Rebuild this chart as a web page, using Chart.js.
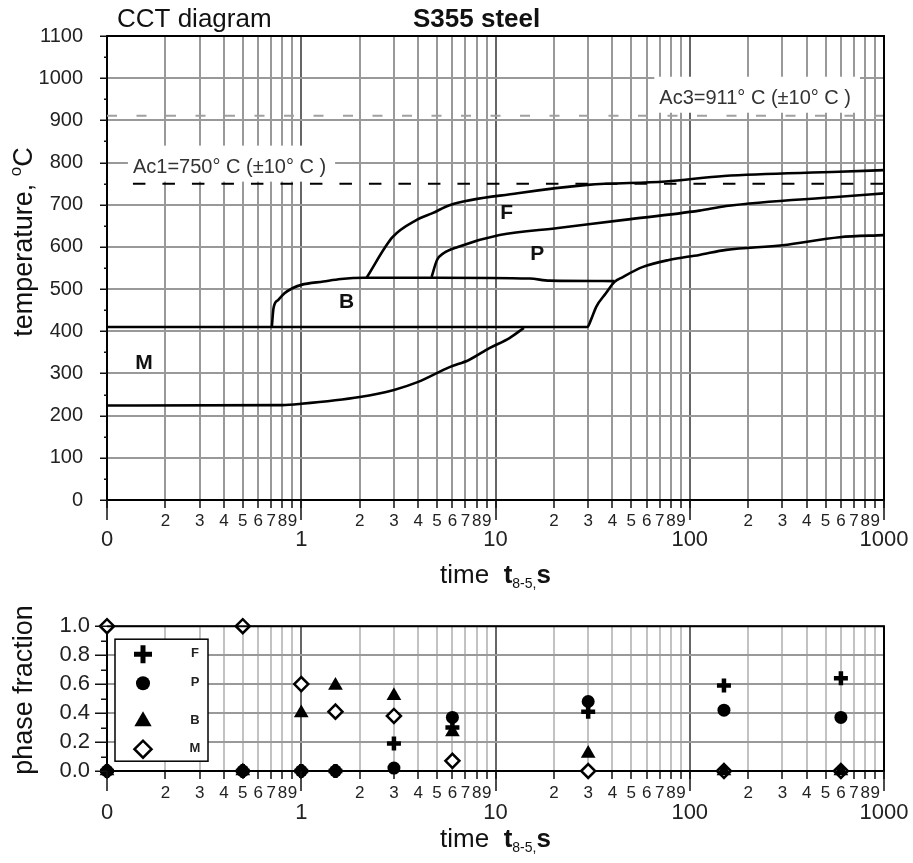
<!DOCTYPE html>
<html>
<head>
<meta charset="utf-8">
<script src="https://cdn.jsdelivr.net/npm/chart.js@4.4.1/dist/chart.umd.min.js"></script>
<style>
  html, body { margin: 0; padding: 0; background: #fff; overflow: hidden; }
  #wrap { position: relative; width: 913px; height: 863px; }
  canvas { position: absolute; left: 0; }
  #cct { top: 0; }
  #phase { top: 596px; }
</style>
</head>
<body>
<div id="wrap">
  <canvas id="cct" width="913" height="596"></canvas>
  <canvas id="phase" width="913" height="267"></canvas>
</div>
<script>
const FONT = "'Liberation Sans', Arial, Helvetica, sans-serif";

/* time axis tick labels */
const decadeValues = [0.1, 1, 10, 100, 1000];
const decadeLabels = ['0', '1', '10', '100', '1000'];
const mantissas = [1, 2, 3, 4, 5, 6, 7, 8, 9];

/* CCT curves: time (s) / temperature (C) */
const curveMsTime = [0.1, 29.7, 31, 33, 37, 41, 45, 57, 78, 112, 154, 300, 590, 1000];
const curveMsTemp = [410, 410, 427, 458, 490, 517, 528, 552, 569, 581, 593, 604, 623, 628];
const curveMfTime = [0.1, 0.8, 1, 2, 3, 4, 5.8, 7.3, 9.3, 11.8, 14];
const curveMfTemp = [224, 225, 228, 244, 261, 280, 315, 332, 360, 384, 408];
const curveBsTime = [0.705, 0.72, 0.76, 0.82, 0.9, 1.0, 1.3, 1.6, 2.1, 5, 15, 19, 41];
const curveBsTemp = [408, 455, 474, 490, 502, 510, 518, 524, 527, 527, 525, 520, 519];
const curveFsTime = [2.17, 2.95, 3.93, 4.74, 5.8, 13, 29.7, 75, 150, 587, 1000];
const curveFsTemp = [527, 623, 664, 680, 699, 727, 747, 755, 768, 778, 782];
const curvePsTime = [4.69, 5.0, 5.4, 6.4, 10.5, 21, 46, 112, 154, 590, 1000];
const curvePsTemp = [529, 569, 585, 600, 628, 645, 664, 686, 697, 719, 727];
const ac1Time = [0.136, 1000];
const ac1Temp = [750, 750];
const ac3Time = [0.1, 1000];
const ac3Temp = [911, 911];

/* phase fractions measured at each cooling time */
const sampleTime = [0.1, 0.5, 1, 1.5, 3, 6, 30, 150, 600];
const fracF = [0, 0, 0, 0, 0.19, 0.30, 0.41, 0.59, 0.64];
const fracP = [0, 0, 0, 0, 0.02, 0.37, 0.48, 0.42, 0.37];
const fracB = [0, 0, 0.40, 0.59, 0.52, 0.27, 0.12, 0, 0];
const fracM = [1.0, 1.0, 0.60, 0.41, 0.38, 0.07, 0, 0, 0];
const phaseNames = ['F', 'P', 'B', 'M'];

/* annotations on the CCT diagram */
const acNotes = [
  { text: 'Ac1=750° C (±10° C )', time: 0.136, temp: 750, lift: 11 },
  { text: 'Ac3=911° C (±10° C )', time: 69.7, temp: 911, lift: 12 }
];
const regionNotes = [
  { text: 'F', time: 11.4, temp: 680 },
  { text: 'P', time: 16.4, temp: 583 },
  { text: 'B', time: 1.71, temp: 469 },
  { text: 'M', time: 0.155, temp: 325 }
];

function buildTimeTicks() {
  const out = [];
  decadeValues.forEach((d, i) => {
    if (i === decadeValues.length - 1) {
      out.push({ value: d, major: true });
      return;
    }
    mantissas.forEach(m => out.push({ value: +(m * d).toPrecision(6), major: m === 1 }));
  });
  return out;
}

function timeLabel(value, index, ticks) {
  const t = ticks[index];
  if (t.major) {
    const k = decadeValues.findIndex(d => Math.abs(d - value) < d * 1e-6);
    return decadeLabels[k];
  }
  const p = Math.pow(10, Math.floor(Math.log10(value) + 1e-9));
  return String(Math.round(value / p));
}

function timeAxis(height, pad, majorLine, minorGrid) {
  return {
    type: 'logarithmic',
    min: 0.1,
    max: 1000,
    afterBuildTicks: (s) => { s.ticks = buildTimeTicks(); },
    afterFit: (s) => { s.height = height; },
    grid: {
      color: c => (c.tick && c.tick.major) ? '#666' : minorGrid,
      lineWidth: 2,
      tickLength: 8,
      tickColor: '#111',
      tickWidth: 1.5
    },
    border: { color: '#000', width: 2 },
    ticks: {
      autoSkip: false,
      maxRotation: 0,
      minRotation: 0,
      padding: pad,
      color: '#222',
      font: c => (c.tick && c.tick.major)
        ? { family: FONT, size: 22, lineHeight: majorLine + 'px' }
        : { family: FONT, size: 17, lineHeight: 1.2 },
      callback: timeLabel
    }
  };
}

function runFont(r) {
  return (r.bold ? 'bold ' : '') + r.size + 'px ' + FONT;
}

function drawRuns(ctx, runs, x, y, align) {
  let w = 0;
  runs.forEach(r => { ctx.font = runFont(r); r.w = ctx.measureText(r.t).width; w += r.w; });
  let cx = align === 'center' ? x - w / 2 : x;
  ctx.textAlign = 'left';
  ctx.textBaseline = 'alphabetic';
  runs.forEach(r => {
    ctx.font = runFont(r);
    ctx.fillText(r.t, cx, y + (r.dy || 0));
    cx += r.w;
  });
}

function timeTitle(ctx, x, y) {
  drawRuns(ctx, [
    { t: 'time  ', size: 26 },
    { t: 't', size: 26, bold: true },
    { t: '8-5,', size: 14, dy: 5 },
    { t: 's', size: 26, bold: true }
  ], x, y, 'center');
}

function yTitle(ctx, runs, x, y) {
  ctx.save();
  ctx.translate(x, y);
  ctx.rotate(-Math.PI / 2);
  drawRuns(ctx, runs, 0, 0, 'center');
  ctx.restore();
}

/* frame on top/right plus tick marks of two lengths */
const axisMarks = {
  id: 'axisMarks',
  afterDatasetsDraw(chart, args, o) {
    const { ctx, chartArea: a } = chart;
    const xs = chart.scales.x, ys = chart.scales.y;
    ctx.save();
    ctx.strokeStyle = '#000';
    ctx.lineWidth = 2;
    ctx.beginPath();
    ctx.moveTo(a.left, a.top);
    ctx.lineTo(a.right, a.top);
    ctx.lineTo(a.right, a.bottom);
    ctx.stroke();

    ctx.strokeStyle = '#111';
    ctx.lineWidth = 1.5;
    ctx.beginPath();
    xs.ticks.forEach(t => {
      if (!t.major) return;
      const px = Math.round(xs.getPixelForValue(t.value));
      ctx.moveTo(px, a.bottom);
      ctx.lineTo(px, a.bottom + o.xMajor);
    });
    ys.ticks.forEach(t => {
      const r = t.value / o.yStep;
      const len = Math.abs(r - Math.round(r)) < 1e-6 ? o.yMajor : o.yMinor;
      const py = Math.round(ys.getPixelForValue(t.value)) + 0.25;
      ctx.moveTo(a.left - len, py);
      ctx.lineTo(a.left, py);
    });
    ctx.stroke();
    ctx.restore();
  }
};

const cctText = {
  id: 'cctText',
  beforeDatasetsDraw(chart) {
    const { ctx } = chart;
    const xs = chart.scales.x, ys = chart.scales.y;
    ctx.save();
    ctx.font = '20px ' + FONT;
    acNotes.forEach(n => {
      const w = ctx.measureText(n.text).width;
      const lx = xs.getPixelForValue(n.time);
      const by = ys.getPixelForValue(n.temp) - n.lift;
      ctx.fillStyle = '#fff';
      ctx.fillRect(lx - 5, by - 27, w + 14, 36);
    });
    ctx.restore();
  },
  afterDatasetsDraw(chart) {
    const { ctx, chartArea: a } = chart;
    const xs = chart.scales.x, ys = chart.scales.y;
    ctx.save();
    ctx.fillStyle = '#333';
    ctx.font = '20px ' + FONT;
    ctx.textAlign = 'left';
    ctx.textBaseline = 'alphabetic';
    acNotes.forEach(n => {
      ctx.fillText(n.text, xs.getPixelForValue(n.time), ys.getPixelForValue(n.temp) - n.lift);
    });

    ctx.fillStyle = '#111';
    ctx.font = 'bold 21px ' + FONT;
    ctx.textAlign = 'center';
    ctx.textBaseline = 'middle';
    regionNotes.forEach(n => {
      ctx.fillText(n.text, xs.getPixelForValue(n.time), ys.getPixelForValue(n.temp));
    });

    ctx.fillStyle = '#111';
    drawRuns(ctx, [{ t: 'CCT diagram', size: 26 }], 117, 27, 'left');
    drawRuns(ctx, [{ t: 'S355 steel', size: 26, bold: true }], 413, 27, 'left');
    timeTitle(ctx, (a.left + a.right) / 2, 583);
    yTitle(ctx, [
      { t: 'temperature, ', size: 27 },
      { t: 'o', size: 17, dy: -11 },
      { t: 'C', size: 27 }
    ], 32, 242);
    ctx.restore();
  }
};

const legendStyle = [
  { radius: 9, borderWidth: 5, row: 15 },
  { radius: 7, borderWidth: 0, row: 44 },
  { radius: 10, borderWidth: 0, row: 82 },
  { radius: 8.5, borderWidth: 2.5, row: 110 }
];

const phaseText = {
  id: 'phaseText',
  afterDatasetsDraw(chart) {
    const { ctx, chartArea: a } = chart;
    const bx = a.left + 8, by = a.top + 13, bw = 93, bh = 122;
    ctx.save();
    ctx.fillStyle = '#fff';
    ctx.fillRect(bx, by, bw, bh);
    ctx.strokeStyle = '#000';
    ctx.lineWidth = 1.5;
    ctx.strokeRect(bx, by, bw, bh);

    chart.data.datasets.forEach((ds, i) => {
      const st = legendStyle[i];
      const cy = by + st.row;
      ctx.fillStyle = ds.backgroundColor;
      ctx.strokeStyle = ds.borderColor;
      ctx.lineWidth = st.borderWidth;
      Chart.helpers.drawPoint(ctx, {
        pointStyle: ds.pointStyle, radius: st.radius, borderWidth: st.borderWidth, rotation: 0
      }, bx + 28, cy);
      ctx.fillStyle = '#222';
      ctx.font = 'bold 13px ' + FONT;
      ctx.textAlign = 'center';
      ctx.textBaseline = 'middle';
      ctx.fillText(ds.label, bx + 80, cy - 1);
    });

    ctx.fillStyle = '#111';
    timeTitle(ctx, (a.left + a.right) / 2, 251);
    yTitle(ctx, [{ t: 'phase fraction', size: 27 }], 32, 94);
    ctx.restore();
  }
};

function curve(times, temps, extra) {
  return Object.assign({
    data: times.map((t, i) => ({ x: t, y: temps[i] })),
    showLine: true,
    borderColor: '#000',
    borderWidth: 2.6,
    pointRadius: 0,
    pointHoverRadius: 0,
    cubicInterpolationMode: 'monotone',
    fill: false
  }, extra || {});
}

new Chart(document.getElementById('cct'), {
  type: 'scatter',
  data: {
    datasets: [
      curve(ac3Time, ac3Temp, { borderColor: '#a0a0a0', borderWidth: 2, borderDash: [10, 19.5], cubicInterpolationMode: 'default', tension: 0 }),
      curve(ac1Time, ac1Temp, { borderWidth: 2, borderDash: [12.5, 17], cubicInterpolationMode: 'default', tension: 0 }),
      curve(curveMsTime, curveMsTemp),
      curve(curveMfTime, curveMfTemp),
      curve(curveBsTime, curveBsTemp),
      curve(curveFsTime, curveFsTemp),
      curve(curvePsTime, curvePsTemp)
    ]
  },
  options: {
    responsive: false,
    animation: false,
    devicePixelRatio: 1,
    events: [],
    layout: { padding: { top: 36, right: 29, left: 0, bottom: 0 } },
    scales: {
      x: timeAxis(96, 3, 57, '#999'),
      y: {
        min: 0,
        max: 1100,
        afterFit: (s) => { s.width = 107; },
        grid: {
          drawTicks: false,
          lineWidth: 2,
          color: c => (c.tick && c.tick.value % 100 === 0) ? '#999' : 'rgba(0,0,0,0)'
        },
        border: { color: '#000', width: 2 },
        ticks: {
          stepSize: 50,
          autoSkip: false,
          padding: 24,
          color: '#222',
          font: { family: FONT, size: 20 },
          callback: v => (v % 100 === 0 ? String(v) : '')
        }
      }
    },
    plugins: {
      legend: { display: false },
      tooltip: { enabled: false },
      axisMarks: { xMajor: 20, yStep: 100, yMajor: 7, yMinor: 3 }
    }
  },
  plugins: [cctText, axisMarks]
});

function phaseSet(label, values, style) {
  return Object.assign({
    label: label,
    data: sampleTime.map((t, i) => ({ x: t, y: values[i] })),
    borderColor: '#000',
    backgroundColor: '#000',
    pointHoverRadius: 0,
    clip: false
  }, style);
}

new Chart(document.getElementById('phase'), {
  type: 'scatter',
  data: {
    datasets: [
      phaseSet(phaseNames[0], fracF, { pointStyle: 'cross', pointRadius: 7, pointBorderWidth: 4.5, borderWidth: 4.5 }),
      phaseSet(phaseNames[1], fracP, { pointStyle: 'circle', pointRadius: 6.5, pointBorderWidth: 0, borderWidth: 0 }),
      phaseSet(phaseNames[2], fracB, { pointStyle: 'triangle', pointRadius: 8.5, pointBorderWidth: 0, borderWidth: 0 }),
      phaseSet(phaseNames[3], fracM, { pointStyle: 'rectRot', pointRadius: 7, pointBorderWidth: 2.5, borderWidth: 2.5, backgroundColor: '#fff' })
    ]
  },
  options: {
    responsive: false,
    animation: false,
    devicePixelRatio: 1,
    events: [],
    layout: { padding: { top: 19, right: 29, left: 0, bottom: 0 } },
    scales: {
      x: timeAxis(92, 4, 59, '#c2c2c2'),
      y: {
        min: 0,
        max: 1,
        afterFit: (s) => { s.width = 107; },
        grid: {
          drawTicks: false,
          lineWidth: 2,
          color: c => (c.tick && Math.round(c.tick.value * 10) % 2 === 0) ? '#999' : 'rgba(0,0,0,0)'
        },
        border: { color: '#000', width: 2 },
        ticks: {
          stepSize: 0.1,
          autoSkip: false,
          padding: 17,
          color: '#222',
          font: { family: FONT, size: 22 },
          callback: v => (Math.round(v * 10) % 2 === 0 ? v.toFixed(1) : '')
        }
      }
    },
    plugins: {
      legend: { display: false },
      tooltip: { enabled: false },
      axisMarks: { xMajor: 20, yStep: 0.2, yMajor: 12, yMinor: 6 }
    }
  },
  plugins: [phaseText, axisMarks]
});
</script>
</body>
</html>
